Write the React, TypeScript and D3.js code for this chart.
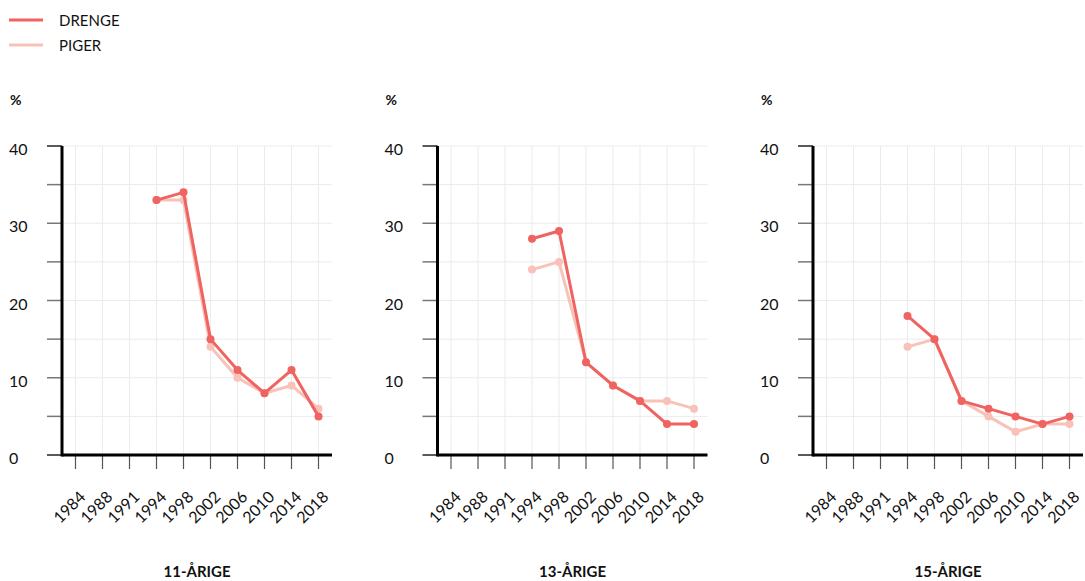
import React from "react";
import * as d3 from "d3";

const years = ["1984", "1988", "1991", "1994", "1998", "2002", "2006", "2010", "2014", "2018"];
const dataYears = ["1994", "1998", "2002", "2006", "2010", "2014", "2018"];
const panelTitles = ["11-ÅRIGE", "13-ÅRIGE", "15-ÅRIGE"];
const drenge11 = [33, 34, 15, 11, 8, 11, 5];
const piger11 = [33, 33, 14, 10, 8, 9, 6];
const drenge13 = [28, 29, 12, 9, 7, 4, 4];
const piger13 = [24, 25, 12, 9, 7, 7, 6];
const drenge15 = [18, 15, 7, 6, 5, 4, 5];
const piger15 = [14, 15, 7, 5, 3, 4, 4];
const yTicks = [0, 5, 10, 15, 20, 25, 30, 35, 40];
const yLabels = [0, 10, 20, 30, 40];
const seriesNames = ["DRENGE", "PIGER"];
const colors = { DRENGE: "#ef6360", PIGER: "#f8c2b8" };

const panels = [
  { title: panelTitles[0], drenge: drenge11, piger: piger11 },
  { title: panelTitles[1], drenge: drenge13, piger: piger13 },
  { title: panelTitles[2], drenge: drenge15, piger: piger15 },
];

const W = 1085;
const H = 581;
const FONT = "Lato, 'Open Sans', sans-serif";

function Panel({ p, x0 }: { p: any; x0: number }) {
  const pw = 270;
  const top = 146;
  const bottom = 455;
  const x = d3.scalePoint<string>().domain(years).range([x0, x0 + pw]).padding(0.5);
  const y = d3.scaleLinear().domain([0, 40]).range([bottom, top]);
  const line = d3
    .line<number>()
    .x((_, i) => x(dataYears[i]) as number)
    .y((d) => y(d));
  const series = [
    { name: "PIGER", vals: p.piger },
    { name: "DRENGE", vals: p.drenge },
  ];
  return (
    <g>
      {yTicks.map((t) => (
        <line key={"hg" + t} x1={x0} x2={x0 + pw} y1={y(t)} y2={y(t)} stroke="#ebebeb" strokeWidth={1} />
      ))}
      {years.map((yr) => (
        <line key={"vg" + yr} x1={x(yr)} x2={x(yr)} y1={top} y2={bottom} stroke="#ebebeb" strokeWidth={1} />
      ))}
      {yTicks.map((t) => (
        <line key={"yt" + t} x1={x0 - 15} x2={x0} y1={y(t)} y2={y(t)} stroke={t === 40 || t === 0 ? "#222" : "#777"} strokeWidth={1.5} />
      ))}
      {yLabels.map((t) => (
        <text key={"yl" + t} x={x0 - 53} y={y(t) + 9} fontSize={16} fontFamily={FONT} fill="#111">
          {t}
        </text>
      ))}
      <text x={x0 - 52} y={105} fontSize={14} fontWeight={700} fontFamily={FONT} fill="#111">%</text>
      {years.map((yr) => (
        <line key={"xt" + yr} x1={x(yr)} x2={x(yr)} y1={bottom} y2={bottom + 14} stroke="#555" strokeWidth={1.2} />
      ))}
      {years.map((yr) => (
        <text
          key={"xl" + yr}
          transform={`translate(${(x(yr) as number) + 11},${498}) rotate(-45)`}
          textAnchor="end"
          fontSize={16}
          fontFamily={FONT}
          fill="#111"
        >
          {yr}
        </text>
      ))}
      <line x1={x0} x2={x0} y1={top} y2={bottom + 1.5} stroke="#000" strokeWidth={3} />
      <line x1={x0} x2={x0 + pw} y1={bottom} y2={bottom} stroke="#000" strokeWidth={3} />
      {series.map((s) => (
        <g key={s.name}>
          <path d={line(s.vals) || ""} fill="none" stroke={(colors as any)[s.name]} strokeWidth={3} strokeLinejoin="round" />
          {s.vals.map((v: number, i: number) => (
            <circle key={i} cx={x(dataYears[i])} cy={y(v)} r={4} fill={(colors as any)[s.name]} />
          ))}
        </g>
      ))}
      <text x={x0 + pw / 2} y={577} textAnchor="middle" fontSize={15} fontWeight={700} fontFamily={FONT} fill="#111">
        {p.title}
      </text>
    </g>
  );
}

export default function App() {
  return (
    <svg width={W} height={H} style={{ position: "absolute", left: 0, top: 0, background: "#fff" }}>
      {seriesNames.map((n, i) => (
        <g key={n}>
          <line x1={9} x2={43} y1={20 + i * 25} y2={20 + i * 25} stroke={(colors as any)[n]} strokeWidth={3} />
          <text x={59} y={25.5 + i * 25} fontSize={15} fontFamily={FONT} fill="#111">
            {n}
          </text>
        </g>
      ))}
      {panels.map((p, i) => (
        <Panel key={p.title} p={p} x0={62 + i * 375.5} />
      ))}
    </svg>
  );
}
